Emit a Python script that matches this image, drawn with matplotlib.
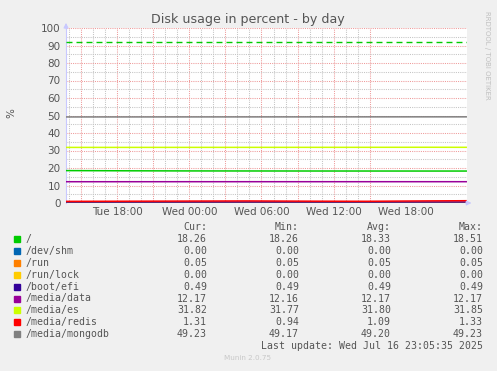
import datetime as dt
import matplotlib
matplotlib.use("Agg")
import matplotlib.pyplot as plt
import matplotlib.dates as mdates
from matplotlib.ticker import MultipleLocator

# ---- data -------------------------------------------------------------
title = "Disk usage in percent - by day"
start = dt.datetime(2025, 7, 15, 13, 45)
end = dt.datetime(2025, 7, 16, 23, 5)
sample_hours = [0, 5, 10, 15, 20, 25, 30, 33.33]

names = ["/", "/dev/shm", "/run", "/run/lock", "/boot/efi",
         "/media/data", "/media/es", "/media/redis", "/media/mongodb"]
colors = ["#00CC00", "#0066B3", "#FF8000", "#FFCC00", "#330099",
          "#990099", "#CCFF00", "#FF0000", "#808080"]

root = [18.51, 18.40, 18.33, 18.30, 18.28, 18.27, 18.26, 18.26]
dev_shm = [0.00, 0.00, 0.00, 0.00, 0.00, 0.00, 0.00, 0.00]
run = [0.05, 0.05, 0.05, 0.05, 0.05, 0.05, 0.05, 0.05]
run_lock = [0.00, 0.00, 0.00, 0.00, 0.00, 0.00, 0.00, 0.00]
boot_efi = [0.49, 0.49, 0.49, 0.49, 0.49, 0.49, 0.49, 0.49]
media_data = [12.16, 12.16, 12.17, 12.17, 12.17, 12.17, 12.17, 12.17]
media_es = [31.77, 31.78, 31.79, 31.80, 31.81, 31.82, 31.85, 31.82]
media_redis = [0.94, 1.02, 1.10, 1.18, 1.05, 0.98, 1.20, 1.31]
media_mongodb = [49.17, 49.18, 49.19, 49.20, 49.21, 49.22, 49.23, 49.23]
series = [root, dev_shm, run, run_lock, boot_efi,
          media_data, media_es, media_redis, media_mongodb]

warning_level = 92

cur = ["18.26", "0.00", "0.05", "0.00", "0.49", "12.17", "31.82", "1.31", "49.23"]
mins = ["18.26", "0.00", "0.05", "0.00", "0.49", "12.16", "31.77", "0.94", "49.17"]
avgs = ["18.33", "0.00", "0.05", "0.00", "0.49", "12.17", "31.80", "1.09", "49.20"]
maxs = ["18.51", "0.00", "0.05", "0.00", "0.49", "12.17", "31.85", "1.33", "49.23"]
last_update = "Last update: Wed Jul 16 23:05:35 2025"
version = "Munin 2.0.75"

# ---- figure -----------------------------------------------------------
W, H = 497, 371
fig = plt.figure(figsize=(W / 100, H / 100), dpi=100, facecolor="#F0F0F0")
ax = fig.add_axes([66 / W, 1 - 203 / H, 401 / W, 175 / H], facecolor="white")

times = [start + dt.timedelta(hours=h) for h in sample_hours]
for vals, c in zip(series, colors):
    ax.plot(times, vals, color=c, lw=1.1, solid_capstyle="butt", zorder=3)

ax.axhline(warning_level, color="#00CC00", lw=1.0, dashes=(4.3, 2.9), zorder=3)

ax.set_xlim(start, end)
ax.set_ylim(0, 100)

ax.xaxis.set_major_locator(mdates.HourLocator(byhour=[0, 6, 12, 18]))
ax.xaxis.set_major_formatter(mdates.DateFormatter("%a %H:%M"))
ax.xaxis.set_minor_locator(mdates.HourLocator())
ax.yaxis.set_major_locator(MultipleLocator(10))
ax.yaxis.set_minor_locator(MultipleLocator(5))

# minor grid (grey) every hour / 5 %, major grid (red) every 3 hours / 10 %
gkw = dict(lw=0.75, dashes=(1, 1.1), zorder=1)
for h in range(0, 40):
    t = dt.datetime(2025, 7, 15, 0) + dt.timedelta(hours=h)
    if start < t < end:
        col = "#EE9A9A" if h % 3 == 0 else "#C4C4C4"
        ax.axvline(t, color=col, **gkw)
for v in range(5, 101, 5):
    col = "#EE9A9A" if v % 10 == 0 else "#C4C4C4"
    ax.axhline(v, color=col, **gkw)

for s in ["top", "right", "bottom"]:
    ax.spines[s].set_visible(False)
ax.spines["left"].set_color("#C8C8FF")
ax.spines["left"].set_linewidth(0.8)

ax.tick_params(axis="both", which="both", length=0, colors="#555555",
               labelsize=7.5, pad=3)
ax.tick_params(axis="y", pad=4)
for lbl in ax.get_xticklabels() + ax.get_yticklabels():
    lbl.set_color("#555555")

# axis arrows
ax.annotate("", xy=(0, 1.045), xytext=(0, 0.98), xycoords="axes fraction",
            arrowprops=dict(arrowstyle="-|>", color="#C8C8FF", lw=0.8,
                            mutation_scale=7), annotation_clip=False)
ax.annotate("", xy=(1.018, 0), xytext=(0.99, 0), xycoords="axes fraction",
            arrowprops=dict(arrowstyle="-|>", color="#C8C8FF", lw=0.8,
                            mutation_scale=7), annotation_clip=False)

# titles
fig.text(248 / W, 1 - 19 / H, title, ha="center", va="center",
         fontsize=9.1, color="#555555")
fig.text(11 / W, 1 - 113 / H, "%", rotation=90, ha="center", va="center",
         fontsize=7.5, color="#555555")
fig.text(487 / W, 1 - 55 / H, "RRDTOOL / TOBI OETIKER", rotation=270,
         ha="center", va="center", fontsize=5, color="#C0C0C0")

# legend table
mono = dict(family="DejaVu Sans Mono", fontsize=7.1, color="#555555")
col_x = [207, 299, 391, 483]
headers = ["Cur:", "Min:", "Avg:", "Max:"]
for x, hd in zip(col_x, headers):
    fig.text(x / W, 1 - 227 / H, hd, ha="right", va="center", **mono)

row0, dy = 239, 11.9
for i, (n, c) in enumerate(zip(names, colors)):
    y = row0 + i * dy
    fig.patches.append(plt.Rectangle((14 / W, 1 - (y + 3) / H), 6 / W, 6 / H,
                                     transform=fig.transFigure, color=c))
    fig.text(26 / W, 1 - y / H, n, ha="left", va="center", **mono)
    for x, col in zip(col_x, [cur, mins, avgs, maxs]):
        fig.text(x / W, 1 - y / H, col[i], ha="right", va="center", **mono)

fig.text(483 / W, 1 - 346 / H, last_update, ha="right", va="center", **mono)
fig.text(248 / W, 1 - 358 / H, version, ha="center", va="center",
         fontsize=5.2, color="#C8C8C8")

fig.savefig("out.png", dpi=100, facecolor=fig.get_facecolor())
